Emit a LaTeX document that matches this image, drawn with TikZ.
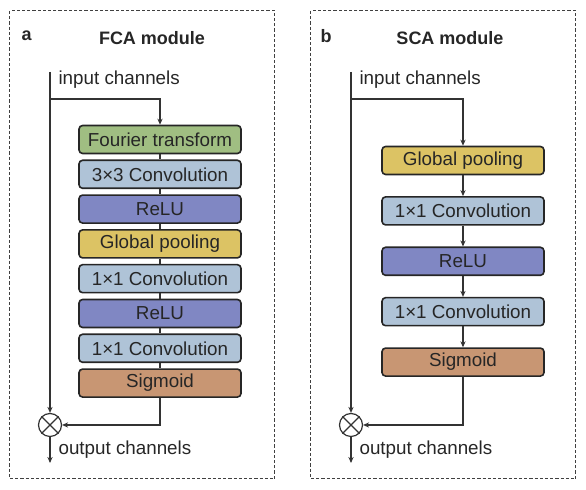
\documentclass[tikz,border=0pt]{standalone}
\usepackage{fontspec}
\setmainfont{Liberation Sans}
\usetikzlibrary{positioning, arrows.meta}
\tikzset{>={Stealth[length=3pt,width=2.6pt]}}
\definecolor{fftgreen}{HTML}{A0BE82}
\definecolor{convblue}{HTML}{AFC3D7}
\definecolor{relupurple}{HTML}{8087C3}
\definecolor{poolgold}{HTML}{DCC364}
\definecolor{sigbrown}{HTML}{C89673}
\colorlet{linegray}{black!80}

\begin{document}
\begin{tikzpicture}[x=0.5pt,y=-0.5pt,line width=0.55pt,draw=linegray,text=black!85]
  \tikzstyle{layer}=[rectangle,rounded corners=1.8pt,draw=black!85,line width=0.8pt,minimum width=81pt,minimum height=14pt,inner sep=0pt,font=\fontsize{9.4}{11}\selectfont]
  \tikzstyle{txt}=[anchor=west,inner sep=0pt,font=\fontsize{9.4}{11}\selectfont]
  \tikzstyle{title}=[inner sep=0pt,font=\bfseries\fontsize{9}{11}\selectfont]
  \tikzstyle{mult}=[circle,draw=linegray,line width=0.6pt,minimum size=11.5pt,inner sep=0pt]
  \tikzstyle{panel}=[draw=black!75,line width=0.5pt,dash pattern=on 1.6pt off 1pt]

  \useasboundingbox (0,0) rectangle (586,490);

  % panels
  \draw[panel] (10,11) rectangle (275,479);
  \draw[panel] (311,11) rectangle (576,479);
  \node[title,anchor=west] (alab) at (21,36) {a};
  \node[title] (atitle) at (152,38) {FCA module};
  \node[title,anchor=west] (blab) at (320,36) {b};
  \node[title] (btitle) at (450,38) {SCA module};

  % FCA module
  \node[layer,fill=fftgreen] (a1) at (160,139.5) {Fourier transform};
  \node[layer,fill=convblue] (a2) [below=2.6pt of a1] {3×3 Convolution};
  \node[layer,fill=relupurple] (a3) [below=2.6pt of a2] {ReLU};
  \node[layer,fill=poolgold] (a4) [below=2.6pt of a3] {Global pooling};
  \node[layer,fill=convblue] (a5) [below=2.6pt of a4] {1×1 Convolution};
  \node[layer,fill=relupurple] (a6) [below=2.6pt of a5] {ReLU};
  \node[layer,fill=convblue] (a7) [below=2.6pt of a6] {1×1 Convolution};
  \node[layer,fill=sigbrown] (a8) [below=2.6pt of a7] {Sigmoid};
  \node[mult] (amul) at (50,425) {};
  \coordinate (atop) at (50,72);
  \coordinate (abr) at (50,99);
  \coordinate (aout) at (50,463);
  \node[txt] (ain) at (58,80) {input channels};
  \node[txt] (aoutlab) at (58,450) {output channels};

  \draw[->] (atop) -- (amul);
  \draw[->] (abr) -| (a1.north);
  \foreach \i/\j in {1/2,2/3,3/4,4/5,5/6,6/7,7/8}
    \draw (a\i) -- (a\j);
  \draw[->] (a8.south) |- (amul.east);
  \draw (amul.north west) -- (amul.south east);
  \draw (amul.north east) -- (amul.south west);
  \draw[->] (amul) -- (aout);

  % SCA module
  \node[layer,fill=poolgold] (b1) at (463,160.5) {Global pooling};
  \node[layer,fill=convblue] (b2) [below=10.4pt of b1] {1×1 Convolution};
  \node[layer,fill=relupurple] (b3) [below=10.4pt of b2] {ReLU};
  \node[layer,fill=convblue] (b4) [below=10.4pt of b3] {1×1 Convolution};
  \node[layer,fill=sigbrown] (b5) [below=10.4pt of b4] {Sigmoid};
  \node[mult] (bmul) at (351,425) {};
  \coordinate (btop) at (351,72);
  \coordinate (bbr) at (351,99);
  \coordinate (bout) at (351,463);
  \node[txt] (bin) at (359,80) {input channels};
  \node[txt] (boutlab) at (359,450) {output channels};

  \draw[->] (btop) -- (bmul);
  \draw[->] (bbr) -| (b1.north);
  \foreach \i/\j in {1/2,2/3,3/4,4/5}
    \draw[->] (b\i) -- (b\j);
  \draw[->] (b5.south) |- (bmul.east);
  \draw (bmul.north west) -- (bmul.south east);
  \draw (bmul.north east) -- (bmul.south west);
  \draw[->] (bmul) -- (bout);
\end{tikzpicture}
\end{document}
